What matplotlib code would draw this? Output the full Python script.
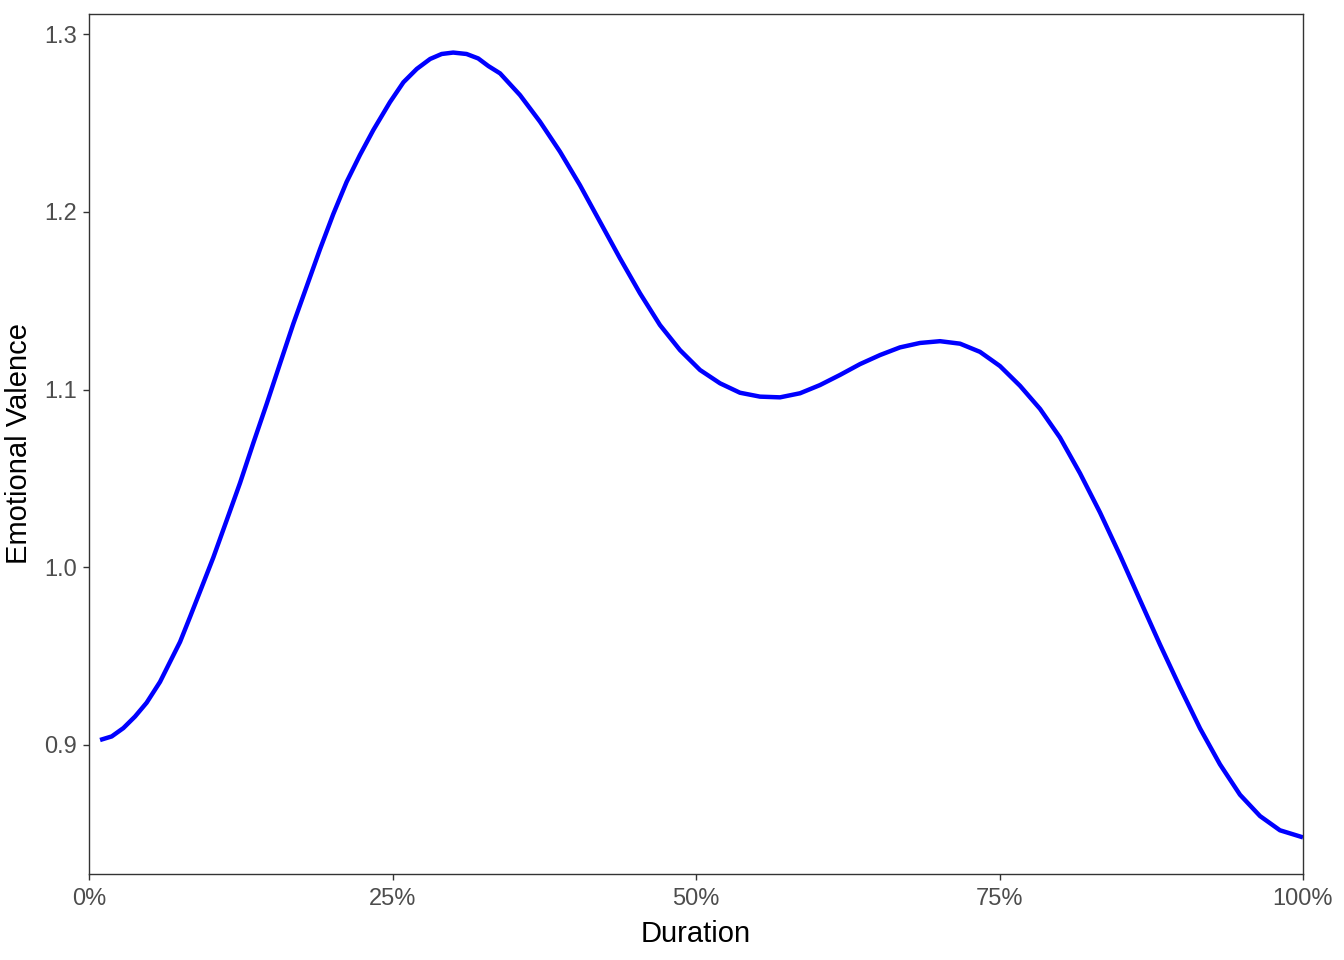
import matplotlib
matplotlib.use('Agg')
import matplotlib.pyplot as plt

# values (duration in %, valence)
duration = [0.91, 1.87, 2.83, 3.79, 4.75, 5.85, 6.67, 7.5, 8.32, 9.28, 10.24, 11.34,
            12.44, 13.54, 14.64, 15.73, 16.83, 17.93, 19.03, 20.12, 21.22, 22.32,
            23.42, 24.79, 25.9, 27.0, 28.1, 29.05, 30.0, 31.1, 32.06, 32.9, 33.86,
            35.5, 37.15, 38.8, 40.44, 42.09, 43.74, 45.39, 47.03, 48.68, 50.33,
            51.98, 53.62, 55.27, 56.92, 58.57, 60.21, 61.86, 63.51, 65.16, 66.8,
            68.45, 70.1, 71.75, 73.39, 75.04, 76.69, 78.34, 79.98, 81.63, 83.28,
            84.93, 86.57, 88.22, 89.87, 91.52, 93.16, 94.81, 96.46, 98.1, 100.0]
valence = [0.9028, 0.9048, 0.9095, 0.916, 0.9238, 0.9355, 0.9467, 0.958, 0.972,
           0.9887, 1.0055, 1.0264, 1.0474, 1.070, 1.092, 1.1145, 1.137, 1.158,
           1.179, 1.1987, 1.2168, 1.232, 1.246, 1.2617, 1.2729, 1.2804, 1.286,
           1.2888, 1.2896, 1.2888, 1.2863, 1.282, 1.2779, 1.2657, 1.2507, 1.2338,
           1.215, 1.1944, 1.1738, 1.1541, 1.1363, 1.1222, 1.111, 1.1035, 1.0982,
           1.096, 1.0956, 1.0979, 1.1025, 1.1082, 1.1143, 1.1194, 1.1237, 1.1262,
           1.1272, 1.1258, 1.1212, 1.1132, 1.1021, 1.0891, 1.073, 1.0529, 1.0308,
           1.0067, 0.9816, 0.9565, 0.9324, 0.9093, 0.8891, 0.872, 0.86, 0.852, 0.848]

x_ticks = [0, 25, 50, 75, 100]
x_labels = ['0%', '25%', '50%', '75%', '100%']
y_ticks = [0.9, 1.0, 1.1, 1.2, 1.3]
y_labels = ['0.9', '1.0', '1.1', '1.2', '1.3']

plt.rcParams['font.family'] = ['Liberation Sans', 'DejaVu Sans']

fig = plt.figure(figsize=(13.44, 9.6), dpi=100)
ax = fig.add_axes([89/1344, 1 - 874/960, (1303-89)/1344, (874-14)/960])

ax.plot(duration, valence, color='#0000FF', lw=3.2, solid_capstyle='butt',
        solid_joinstyle='round')

ax.set_xlim(0, 100)
ax.set_ylim(0.8274, 1.3113)
ax.set_xticks(x_ticks)
ax.set_xticklabels(x_labels)
ax.set_yticks(y_ticks)
ax.set_yticklabels(y_labels)

for s in ax.spines.values():
    s.set_color('#333333')
    s.set_linewidth(1.0)
ax.tick_params(axis='both', colors='#333333', labelcolor='#4D4D4D',
               labelsize=17, length=4, width=1.0)
ax.tick_params(axis='x', pad=6)
ax.tick_params(axis='y', pad=5)

ax.set_xlabel('Duration', fontsize=21, color='black', labelpad=7)
ax.set_ylabel('Emotional Valence', fontsize=21, color='black', labelpad=8)

fig.savefig('out.png', dpi=100, facecolor='white')
